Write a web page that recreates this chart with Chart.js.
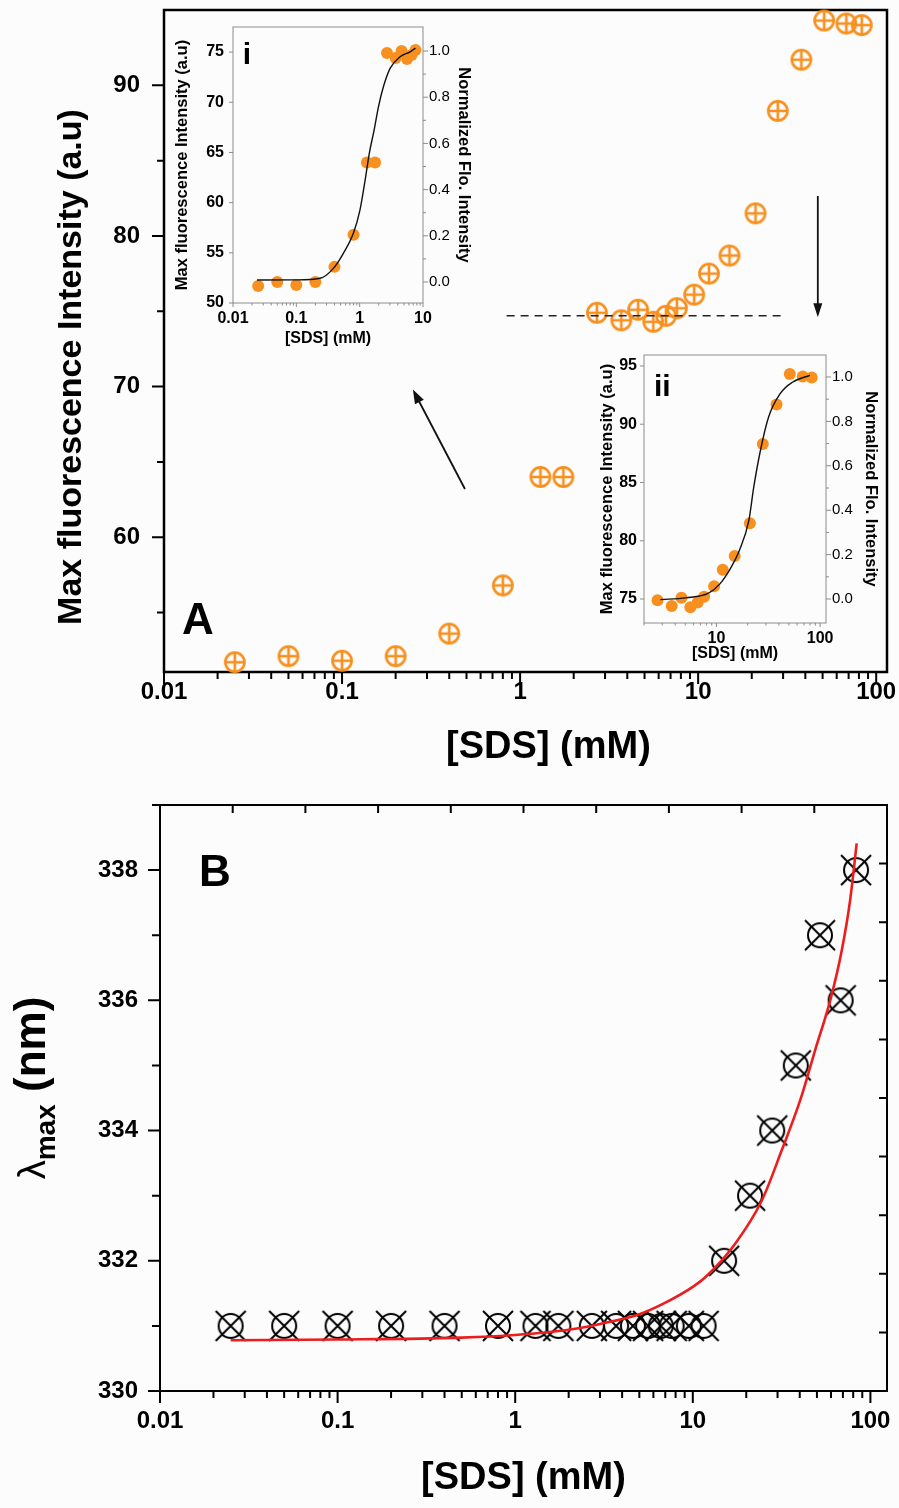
<!DOCTYPE html>
<html><head><meta charset="utf-8"><title>SDS fluorescence</title>
<script src="https://cdn.jsdelivr.net/npm/chart.js@4.4.1/dist/chart.umd.min.js"></script>
<style>
html,body{margin:0;padding:0;background:#fcfcfc;}
#wrap{position:relative;width:899px;height:1508px;overflow:hidden;}
canvas{position:absolute;display:block;}
</style></head><body>
<div id="wrap">
<canvas id="cA" width="899" height="780" style="left:0;top:0"></canvas>
<canvas id="cB" width="899" height="728" style="left:0;top:780px"></canvas>
<canvas id="cI" width="310" height="345" style="left:170px;top:15px"></canvas>
<canvas id="cII" width="315" height="330" style="left:585px;top:345px"></canvas>
</div>
<script>
// ---------------- DATA ----------------
const sdsA = [0.025,0.05,0.1,0.2,0.4,0.8,1.3,1.75,2.7,3.7,4.6,5.6,6.6,7.6,9.5,11.5,15,21,28,38,51,68,83];
const fluorA = [51.7,52.1,51.8,52.1,53.6,56.8,64.0,64.0,74.9,74.4,75.1,74.3,74.7,75.2,76.1,77.5,78.7,81.5,88.3,91.7,94.3,94.1,94.0];

const sdsInsetI = [0.025,0.05,0.1,0.2,0.4,0.8,1.3,1.75,2.7,3.7,4.6,5.6,6.6,7.6];
const fluorInsetI = [51.7,52.1,51.8,52.1,53.6,56.8,64.0,64.0,74.9,74.4,75.1,74.3,74.7,75.2];
const fitI_x = [0.024,0.1,0.237,0.385,0.553,0.796,1.01,1.22,1.42,1.69,1.98,2.37,3.02,4.35,6.25,7.6];
const fitI_y = [52.29,52.3,52.46,53.45,54.95,56.94,59.26,62.25,64.91,67.23,69.55,71.54,73.38,74.53,75.03,75.4];

const sdsInsetII = [2.7,3.7,4.6,5.6,6.6,7.6,9.5,11.5,15,21,28,38,51,68,83];
const fluorInsetII = [74.9,74.4,75.1,74.3,74.7,75.2,76.1,77.5,78.7,81.5,88.3,91.7,94.3,94.1,94.0];
const fitII_x = [2.88,5.06,8.4,10.8,13.4,16.7,20.6,22.9,26.5,31.8,41,54.1,79.7];
const fitII_y = [74.95,75.1,75.5,76.3,77.5,79.2,81.8,84.6,87.7,90.6,92.6,93.6,94.2];

const sdsB = [0.025,0.05,0.1,0.2,0.4,0.8,1.3,1.75,2.7,3.7,4.6,5.6,6.6,7.6,9.5,11.5,15,21,28,38,52,68,83];
const lambdaB = [331,331,331,331,331,331,331,331,331,331,331,331,331,331,331,331,332,333,334,335,337,336,338];
const fitB_x = [0.025,0.1,0.5,1,2,3,5,6.7,10,11.8,17.4,24.5,31.7,40.3,48.9,59.4,69,76.9,83.7];
const fitB_y = [330.78,330.79,330.82,330.86,330.94,331.03,331.18,331.33,331.6,331.75,332.27,332.93,333.7,334.47,335.24,336.0,336.77,337.54,338.41];

const dashRef_x = [0.84, 29.6];
const dashRef_y = [74.7, 74.7];
const arrowUp_x = [0.49, 0.25], arrowUp_y = [63.2, 69.8];
const arrowDown_x = [47, 47], arrowDown_y = [82.65, 74.6];

const yTicksA = [55,60,65,70,75,80,85,90];
const yMajorA = [60,70,80,90];
const yTicksB = [330,331,332,333,334,335,336,337,338,339];
const yMajorB = [330,332,334,336,338];
const yTicksI = [50,55,60,65,70,75];
const yTicksII = [75,80,85,90,95];
const normTicks = [0,0.1,0.2,0.3,0.4,0.5,0.6,0.7,0.8,0.9,1.0];
const normMajor = [0,0.2,0.4,0.6,0.8,1.0];
const frameTicks = [1,2,3,4,5,6,7,8,9];

// ---------------- HELPERS ----------------
const F = "'Liberation Sans', Arial, Helvetica, sans-serif";
Chart.defaults.font.family = F;
Chart.defaults.font.weight = 'bold';
Chart.defaults.color = '#000';
Chart.defaults.animation = false;

const ORANGE = '#f7901e';
const pts = (xs, ys) => xs.map((x, i) => ({ x: x, y: ys[i] }));

function logTicks(min, max) {
  const out = [];
  for (let e = -3; e <= 3; e++) for (let m = 1; m <= 9; m++) {
    const v = parseFloat((m * Math.pow(10, e)).toPrecision(3));
    if (v >= min * 0.9999 && v <= max * 1.0001) out.push({ value: v, major: m === 1 });
  }
  return out;
}
const listTicks = (vals, majors) => vals.map(v => ({ value: v, major: majors.includes(v) }));
const logLabel = (v, i, t) => (t[i] && t[i].major ? String(v) : '');
const majLabel = (v, i, t) => (t[i] && t[i].major ? String(v) : '');
const normLabel = (v, i, t) => (t[i] && t[i].major ? v.toFixed(1) : '');
const GRID = { display: false, drawTicks: false };
function fixW(w) { return a => { a.width = w; a.paddingTop = a.paddingBottom = a.paddingLeft = a.paddingRight = 0; }; }
function fixH(h) { return a => { a.height = h; a.paddingTop = a.paddingBottom = a.paddingLeft = a.paddingRight = 0; }; }

function ringMarker(r, lw, color, kind, arm) {
  const ext = Math.max(r, arm) + lw;
  const s = 2 * Math.ceil(ext) + 2;
  const c = document.createElement('canvas'); c.width = s; c.height = s;
  const g = c.getContext('2d'); const m = s / 2;
  g.strokeStyle = color; g.lineWidth = lw;
  g.beginPath(); g.arc(m, m, r, 0, Math.PI * 2); g.stroke();
  g.beginPath();
  if (kind === 'plus') { g.moveTo(m - arm, m); g.lineTo(m + arm, m); g.moveTo(m, m - arm); g.lineTo(m, m + arm); }
  else { g.moveTo(m - arm, m - arm); g.lineTo(m + arm, m + arm); g.moveTo(m + arm, m - arm); g.lineTo(m - arm, m + arm); }
  g.stroke();
  return c;
}

function hiddenAxis(pos, axis, min, max, vals) {
  return {
    type: 'linear', position: pos, axis: axis, min: min, max: max,
    grid: GRID, border: { display: false }, ticks: { display: false },
    afterBuildTicks: a => { a.ticks = vals.map(v => ({ value: v, major: false })); },
    afterFit: axis === 'x' ? fixH(0) : fixW(0)
  };
}

function rotText(ctx, text, x, y, font) {
  ctx.save(); ctx.translate(x, y); ctx.rotate(-Math.PI / 2);
  ctx.font = font; ctx.textAlign = 'center'; ctx.textBaseline = 'middle'; ctx.fillStyle = '#000';
  ctx.fillText(text, 0, 0); ctx.restore();
}

function deco(cfg) {
  return {
    id: 'deco',
    beforeDatasetsDraw(chart) {
      const ctx = chart.ctx, a = chart.chartArea;
      ctx.save();
      (cfg.ticks || []).forEach(t => {
        const sc = chart.scales[t.scale];
        ctx.strokeStyle = t.color || '#000'; ctx.lineWidth = t.width || 1.5; ctx.lineCap = 'butt';
        ctx.beginPath();
        sc.ticks.forEach(tk => {
          const len = tk.major ? t.maj : t.min; if (!len) return;
          const p = sc.getPixelForValue(tk.value);
          const s = t.dir === 'out' ? 1 : -1;
          if (t.side === 'bottom') { ctx.moveTo(p, a.bottom); ctx.lineTo(p, a.bottom + s * len); }
          else if (t.side === 'top') { ctx.moveTo(p, a.top); ctx.lineTo(p, a.top - s * len); }
          else if (t.side === 'left') { ctx.moveTo(a.left, p); ctx.lineTo(a.left - s * len, p); }
          else { ctx.moveTo(a.right, p); ctx.lineTo(a.right + s * len, p); }
        });
        ctx.stroke();
      });
      if (cfg.frame) {
        ctx.strokeStyle = cfg.frame.color; ctx.lineWidth = cfg.frame.width;
        ctx.strokeRect(a.left, a.top, a.right - a.left, a.bottom - a.top);
      }
      ctx.restore();
    },
    afterDatasetsDraw(chart) {
      const ctx = chart.ctx;
      ctx.save();
      (cfg.arrows || []).forEach(ar => {
        const sx = chart.scales.x, sy = chart.scales.y;
        const x1 = sx.getPixelForValue(ar.x[0]), y1 = sy.getPixelForValue(ar.y[0]);
        const x2 = sx.getPixelForValue(ar.x[1]), y2 = sy.getPixelForValue(ar.y[1]);
        const ang = Math.atan2(y2 - y1, x2 - x1), hl = ar.head, hw = ar.headW;
        ctx.strokeStyle = '#111'; ctx.fillStyle = '#111'; ctx.lineWidth = ar.width;
        ctx.beginPath(); ctx.moveTo(x1, y1);
        ctx.lineTo(x2 - Math.cos(ang) * hl * 0.7, y2 - Math.sin(ang) * hl * 0.7); ctx.stroke();
        ctx.beginPath(); ctx.moveTo(x2, y2);
        ctx.lineTo(x2 - hl * Math.cos(ang) + hw / 2 * Math.sin(ang), y2 - hl * Math.sin(ang) - hw / 2 * Math.cos(ang));
        ctx.lineTo(x2 - hl * Math.cos(ang) - hw / 2 * Math.sin(ang), y2 - hl * Math.sin(ang) + hw / 2 * Math.cos(ang));
        ctx.closePath(); ctx.fill();
      });
      (cfg.texts || []).forEach(tx => {
        const sx = chart.scales.x, sy = chart.scales.y;
        ctx.font = tx.font; ctx.fillStyle = '#000'; ctx.textAlign = 'center'; ctx.textBaseline = 'middle';
        ctx.fillText(tx.text, sx.getPixelForValue(tx.x), sy.getPixelForValue(tx.y));
      });
      if (cfg.custom) cfg.custom(chart, ctx);
      ctx.restore();
    }
  };
}

const baseOpts = (pad) => ({
  responsive: false, animation: false, events: [],
  layout: { padding: pad, autoPadding: false },
  plugins: { legend: { display: false }, tooltip: { enabled: false } }
});

// ---------------- PANEL A ----------------
const markA = ringMarker(9.6, 2.6, ORANGE, 'plus', 9.6);
new Chart(document.getElementById('cA'), {
  type: 'scatter',
  data: { datasets: [
    { data: pts(dashRef_x, dashRef_y), showLine: true, borderColor: '#222', borderWidth: 1.6, borderDash: [8, 6], pointRadius: 0, clip: false },
    { data: pts(sdsA, fluorA), pointStyle: markA, pointRadius: 10, clip: false }
  ]},
  options: Object.assign(baseOpts({ top: 10, right: 12, bottom: 0, left: 0 }), {
    scales: {
      x: { type: 'logarithmic', min: 0.01, max: 115, grid: GRID, border: { display: false },
        afterBuildTicks: a => { a.ticks = logTicks(0.01, 115); },
        ticks: { autoSkip: false, maxRotation: 0, padding: 6, font: { size: 24, weight: 'bold' }, callback: logLabel },
        title: { display: false },
        afterFit: fixH(108) },
      y: { type: 'linear', min: 51.05, max: 95, grid: GRID, border: { display: false },
        afterBuildTicks: a => { a.ticks = listTicks(yTicksA, yMajorA); },
        ticks: { autoSkip: false, padding: 24, font: { size: 24, weight: 'bold' }, callback: majLabel },
        title: { display: false },
        afterFit: fixW(164) }
    }
  }),
  plugins: [deco({
    frame: { color: '#000', width: 2.5 },
    ticks: [
      { scale: 'x', side: 'bottom', dir: 'out', maj: 12, min: 7, width: 2 },
      { scale: 'y', side: 'left', dir: 'out', maj: 12, min: 7, width: 2 }
    ],
    arrows: [
      { x: arrowUp_x, y: arrowUp_y, width: 1.8, head: 14, headW: 10 },
      { x: arrowDown_x, y: arrowDown_y, width: 1.8, head: 14, headW: 9 }
    ],
    texts: [{ text: 'A', x: 0.0155, y: 54.4, font: 'bold 44px ' + F }],
    custom: (chart, ctx) => {
      const a = chart.chartArea;
      ctx.font = 'bold 38px ' + F; ctx.textAlign = 'center'; ctx.textBaseline = 'middle'; ctx.fillStyle = '#000';
      ctx.fillText('[SDS] (mM)', (a.left + a.right) / 2 + 23, a.bottom + 76);
      rotText(ctx, 'Max fluorescence Intensity (a.u)', a.left - 92, (a.top + a.bottom) / 2 + 26, 'bold 34px ' + F);
    }
  })]
});

// ---------------- INSET i ----------------
const GRAY = '#8c8c8c';
new Chart(document.getElementById('cI'), {
  type: 'scatter',
  data: { datasets: [
    { data: pts(fitI_x, fitI_y), showLine: true, borderColor: '#111', borderWidth: 1.4, pointRadius: 0, cubicInterpolationMode: 'monotone', clip: false },
    { data: pts(sdsInsetI, fluorInsetI), pointStyle: 'circle', pointRadius: 6, backgroundColor: ORANGE, borderWidth: 0, clip: false }
  ]},
  options: Object.assign(baseOpts({ top: 12, right: 0, bottom: 0, left: 0 }), {
    scales: {
      x: { type: 'logarithmic', min: 0.01, max: 10, grid: GRID, border: { display: false },
        afterBuildTicks: a => { a.ticks = logTicks(0.01, 10); },
        ticks: { autoSkip: false, maxRotation: 0, padding: 6, font: { size: 16, weight: 'bold' }, callback: logLabel },
        title: { display: true, text: '[SDS] (mM)', font: { size: 16, weight: 'bold' }, padding: { top: 0, bottom: 12 } },
        afterFit: fixH(57) },
      y: { type: 'linear', min: 50, max: 77.5, grid: GRID, border: { display: false },
        afterBuildTicks: a => { a.ticks = listTicks(yTicksI, yTicksI); },
        ticks: { autoSkip: false, padding: 9, font: { size: 16, weight: 'bold' }, callback: majLabel },
        title: { display: true, text: 'Max fluorescence Intensity (a.u)', font: { size: 16.5, weight: 'bold' }, padding: { top: 3, bottom: 0 } },
        afterFit: fixW(63) },
      y2: { type: 'linear', position: 'right', axis: 'y', min: -0.091, max: 1.104, grid: GRID, border: { display: false },
        afterBuildTicks: a => { a.ticks = listTicks(normTicks, normMajor); },
        ticks: { autoSkip: false, padding: 6, font: { size: 15, weight: 'normal' }, callback: normLabel },
        title: { display: true, text: 'Normalized Flo. Intensity', font: { size: 16.5, weight: 'bold' }, padding: { top: 7, bottom: 0 } },
        afterFit: fixW(57) }
    }
  }),
  plugins: [deco({
    frame: { color: GRAY, width: 1 },
    ticks: [
      { scale: 'x', side: 'bottom', dir: 'out', maj: 4, min: 2.5, width: 1, color: GRAY },
      { scale: 'y', side: 'left', dir: 'out', maj: 4, min: 0, width: 1, color: GRAY },
      { scale: 'y2', side: 'right', dir: 'out', maj: 5, min: 3, width: 1, color: GRAY }
    ],
    texts: [{ text: 'i', x: 0.0166, y: 74.6, font: 'bold 30px ' + F }]
  })]
});

// ---------------- INSET ii ----------------
new Chart(document.getElementById('cII'), {
  type: 'scatter',
  data: { datasets: [
    { data: pts(fitII_x, fitII_y), showLine: true, borderColor: '#111', borderWidth: 1.4, pointRadius: 0, cubicInterpolationMode: 'monotone', clip: false },
    { data: pts(sdsInsetII, fluorInsetII), pointStyle: 'circle', pointRadius: 6, backgroundColor: ORANGE, borderWidth: 0, clip: false }
  ]},
  options: Object.assign(baseOpts({ top: 10, right: 0, bottom: 0, left: 0 }), {
    scales: {
      x: { type: 'logarithmic', min: 2.0, max: 114, grid: GRID, border: { display: false },
        afterBuildTicks: a => { a.ticks = logTicks(2.0, 114); },
        ticks: { autoSkip: false, maxRotation: 0, padding: 6, font: { size: 16, weight: 'bold' }, callback: logLabel },
        title: { display: true, text: '[SDS] (mM)', font: { size: 16, weight: 'bold' }, padding: { top: 0, bottom: 12 } },
        afterFit: fixH(52) },
      y: { type: 'linear', min: 72.94, max: 95.94, grid: GRID, border: { display: false },
        afterBuildTicks: a => { a.ticks = listTicks(yTicksII, yTicksII); },
        ticks: { autoSkip: false, padding: 7, font: { size: 16, weight: 'bold' }, callback: majLabel },
        title: { display: true, text: 'Max fluorescence Intensity (a.u)', font: { size: 16.5, weight: 'bold' }, padding: { top: 13, bottom: 0 } },
        afterFit: fixW(59) },
      y2: { type: 'linear', position: 'right', axis: 'y', min: -0.108, max: 1.099, grid: GRID, border: { display: false },
        afterBuildTicks: a => { a.ticks = listTicks(normTicks, normMajor); },
        ticks: { autoSkip: false, padding: 6, font: { size: 15, weight: 'normal' }, callback: normLabel },
        title: { display: true, text: 'Normalized Flo. Intensity', font: { size: 16.5, weight: 'bold' }, padding: { top: 20, bottom: 0 } },
        afterFit: fixW(74) }
    }
  }),
  plugins: [deco({
    frame: { color: GRAY, width: 1 },
    ticks: [
      { scale: 'x', side: 'bottom', dir: 'out', maj: 4, min: 2.5, width: 1, color: GRAY },
      { scale: 'y', side: 'left', dir: 'out', maj: 4, min: 0, width: 1, color: GRAY },
      { scale: 'y2', side: 'right', dir: 'out', maj: 5, min: 3, width: 1, color: GRAY }
    ],
    texts: [{ text: 'ii', x: 3.0, y: 93.1, font: 'bold 30px ' + F }]
  })]
});

// ---------------- PANEL B ----------------
const markB = ringMarker(12, 2, '#000', 'x', 15);
new Chart(document.getElementById('cB'), {
  type: 'scatter',
  data: { datasets: [
    { data: pts(fitB_x, fitB_y), showLine: true, borderColor: '#ee1c1c', borderWidth: 2.6, pointRadius: 0, cubicInterpolationMode: 'monotone', clip: false },
    { data: pts(sdsB, lambdaB), pointStyle: markB, pointRadius: 12, clip: false }
  ]},
  options: Object.assign(baseOpts({ top: 25, right: 12, bottom: 0, left: 0 }), {
    scales: {
      x: { type: 'logarithmic', min: 0.01, max: 124, grid: GRID, border: { display: false },
        afterBuildTicks: a => { a.ticks = logTicks(0.01, 124); },
        ticks: { autoSkip: false, maxRotation: 0, padding: 16, font: { size: 24, weight: 'bold' }, callback: logLabel },
        title: { display: true, text: '[SDS] (mM)', font: { size: 38, weight: 'bold' }, padding: { top: 0, bottom: 7 } },
        afterFit: fixH(117) },
      y: { type: 'linear', min: 330, max: 339, grid: GRID, border: { display: false },
        afterBuildTicks: a => { a.ticks = listTicks(yTicksB, yMajorB); },
        ticks: { autoSkip: false, padding: 22, font: { size: 24, weight: 'bold' }, callback: majLabel },
        title: { display: false },
        afterFit: fixW(160) },
      xTop: hiddenAxis('top', 'x', 0, 10, frameTicks),
      yRight: hiddenAxis('right', 'y', 0, 10, frameTicks)
    }
  }),
  plugins: [deco({
    frame: { color: '#000', width: 2 },
    ticks: [
      { scale: 'x', side: 'bottom', dir: 'out', maj: 12, min: 7, width: 2 },
      { scale: 'y', side: 'left', dir: 'out', maj: 12, min: 8, width: 2 },
      { scale: 'xTop', side: 'top', dir: 'in', maj: 8, min: 8, width: 2 },
      { scale: 'yRight', side: 'right', dir: 'in', maj: 8, min: 8, width: 2 }
    ],
    texts: [{ text: 'B', x: 0.0204, y: 337.95, font: 'bold 44px ' + F }],
    custom: (chart, ctx) => {
      const a = chart.chartArea;
      const cy = (a.top + a.bottom) / 2 - 10, cx = a.left - 117;
      ctx.save(); ctx.translate(cx, cy); ctx.rotate(-Math.PI / 2);
      const f1 = '38px ' + F, f2 = 'bold 28px ' + F, f3 = 'bold 44px ' + F;
      ctx.font = f1; const w1 = ctx.measureText('λ').width;
      ctx.font = f2; const w2 = ctx.measureText('max').width;
      ctx.font = f3; const w3 = ctx.measureText(' (nm)').width;
      let x = -(w1 + w2 + w3) / 2;
      ctx.fillStyle = '#000'; ctx.textAlign = 'left'; ctx.textBaseline = 'alphabetic';
      ctx.font = f1; ctx.fillText('λ', x, 2); x += w1;
      ctx.font = f2; ctx.fillText('max', x, 12); x += w2;
      ctx.font = f3; ctx.fillText(' (nm)', x, 2);
      ctx.restore();
    }
  })]
});
</script>
</body></html>
